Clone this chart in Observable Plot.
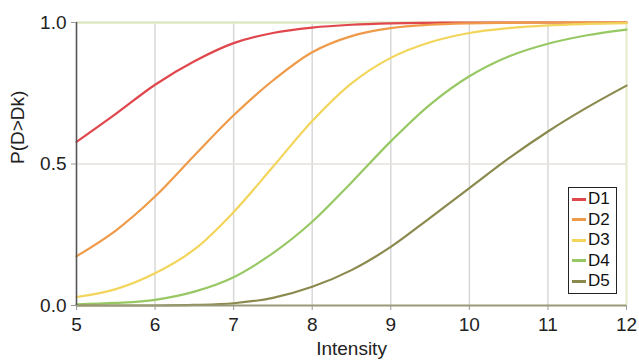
<!DOCTYPE html>
<html>
<head>
<meta charset="utf-8">
<script src="https://cdn.jsdelivr.net/npm/d3@7"></script>
<script src="https://cdn.jsdelivr.net/npm/@observablehq/plot@0.6"></script>
<style>
  html, body { margin: 0; padding: 0; background: #fff; }
  #wrap { position: relative; width: 639px; height: 361px; font-family: "Liberation Sans", Arial, sans-serif; }
  #wrap svg g[aria-label="x-axis tick label"], #wrap svg g[aria-label="y-axis tick label"],
  #wrap svg g[aria-label="x-axis tick label"] text, #wrap svg g[aria-label="y-axis tick label"] text { font-size: 19px; }
  #legend { position: absolute; left: 568px; top: 187px; width: 47px; border: 1px solid #222; background: #fff; padding: 1px 0 1px 0; }
  .li { display: flex; align-items: center; height: 20.5px; font-size: 17px; color: #111; }
  .sw { width: 14px; height: 3px; margin: 0 2px 0 3px; }
</style>
</head>
<body>
<div id="wrap"></div>
<script>
const series = ["D1", "D2", "D3", "D4", "D5"];
const colors = ["#e0474c", "#ef9a48", "#f2d55a", "#98c864", "#8b8a4e"];
const intensity = [5, 5.5, 6, 6.5, 7, 7.5, 8, 8.5, 9, 9.5, 10, 10.5, 11, 11.5, 12];
const d1 = [0.578, 0.677, 0.78, 0.863, 0.927, 0.963, 0.982, 0.992, 0.997, 0.999, 1.0, 1.0, 1.0, 1.0, 1.0];
const d2 = [0.174, 0.265, 0.385, 0.53, 0.672, 0.795, 0.895, 0.952, 0.98, 0.992, 0.997, 0.999, 1.0, 1.0, 1.0];
const d3 = [0.03, 0.058, 0.114, 0.198, 0.33, 0.49, 0.652, 0.785, 0.875, 0.93, 0.963, 0.98, 0.99, 0.995, 0.998];
const d4 = [0.004, 0.009, 0.02, 0.049, 0.1, 0.185, 0.296, 0.435, 0.58, 0.71, 0.81, 0.88, 0.925, 0.955, 0.975];
const d5 = [0.0, 0.0, 0.0, 0.002, 0.008, 0.027, 0.066, 0.125, 0.207, 0.31, 0.415, 0.52, 0.615, 0.70, 0.777];
const xTicks = [5, 6, 7, 8, 9, 10, 11, 12];
const yTicks = [0, 0.5, 1];
const yTickLabels = ["0.0", "0.5", "1.0"];

const allVals = [d1, d2, d3, d4, d5];
const data = [];
series.forEach((s, i) => intensity.forEach((x, j) => data.push({series: s, x, y: allVals[i][j]})));

const chart = Plot.plot({
  width: 639,
  height: 361,
  marginLeft: 76,
  marginRight: 13,
  marginTop: 22,
  marginBottom: 56,
  style: { fontFamily: "Liberation Sans, Arial, sans-serif", fontSize: "19px", color: "#222", background: "#fff" },
  x: { domain: [5, 12], label: null },
  y: { domain: [0, 1], label: null },
  color: { domain: series, range: colors },
  marks: [
    Plot.gridX(xTicks, { stroke: "#d8d8d8", strokeOpacity: 1, strokeWidth: 1.5 }),
    Plot.gridY([0.5], { stroke: "#e6e0dc", strokeOpacity: 1, strokeWidth: 1.5 }),
    Plot.ruleY([1], { stroke: "#dfe8c4", strokeWidth: 2.5 }),
    Plot.ruleX([12], { stroke: "#e8ecc4", strokeWidth: 1.5 }),
    Plot.lineY(data, { x: "x", y: "y", stroke: "series", strokeWidth: 2.2, curve: "catmull-rom" }),
    Plot.ruleY([0], { stroke: "#9a9a78", strokeWidth: 2 }),
    Plot.ruleX([5], { stroke: "#555", strokeWidth: 1.5 }),
    Plot.axisX(xTicks, { tickSize: 5, tickPadding: 7, fontSize: 19, tickFormat: d => String(d), stroke: "#999", label: null }),
    Plot.axisY(yTicks, { tickSize: 5, tickPadding: 5, fontSize: 19, tickFormat: (d, i) => yTickLabels[i], stroke: "#999", label: null }),
    Plot.text(["Intensity"], { frameAnchor: "bottom", dy: 49, fontSize: 19, fill: "#222" }),
    Plot.text(["P(D>Dk)"], { frameAnchor: "left", dx: -59, rotate: -90, fontSize: 19, fill: "#222" })
  ]
});
const wrap = document.getElementById("wrap");
wrap.appendChild(chart);

const legend = document.createElement("div");
legend.id = "legend";
series.forEach((s, i) => {
  const row = document.createElement("div");
  row.className = "li";
  const sw = document.createElement("span");
  sw.className = "sw";
  sw.style.background = colors[i];
  const t = document.createElement("span");
  t.textContent = s;
  row.appendChild(sw);
  row.appendChild(t);
  legend.appendChild(row);
});
wrap.appendChild(legend);
</script>
</body>
</html>
